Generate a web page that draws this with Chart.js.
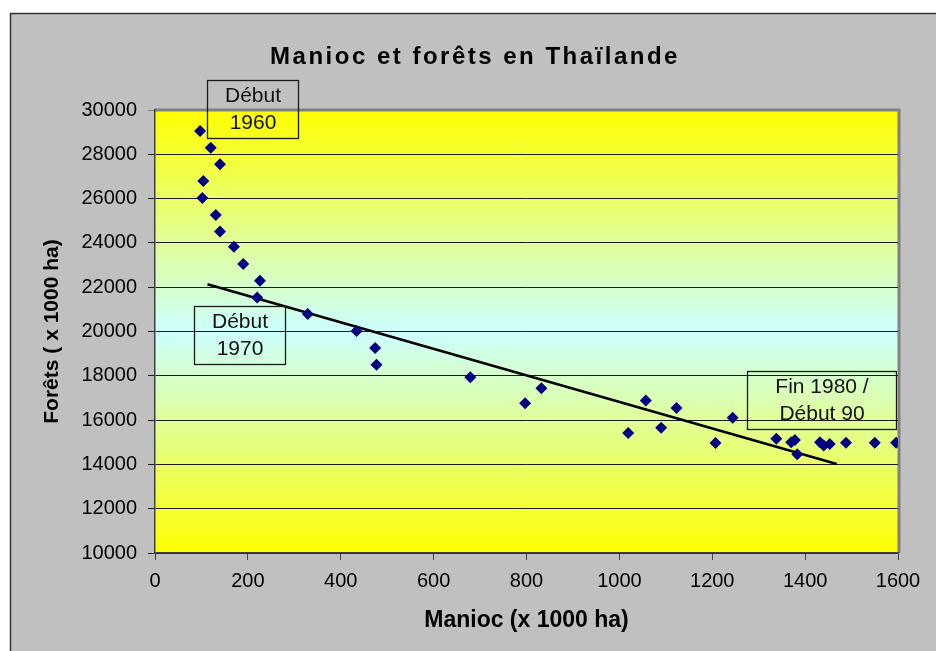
<!DOCTYPE html>
<html>
<head>
<meta charset="utf-8">
<script src="https://cdn.jsdelivr.net/npm/chart.js@4"></script>
<style>
  html, body { margin: 0; padding: 0; background: #fff; }
</style>
</head>
<body>
<canvas id="chart" width="936" height="651"></canvas>
<script>
// Data
const maniocX = [97, 120, 140, 104, 102, 131, 140, 170, 190, 226, 220, 329, 434, 474, 477, 679, 797, 832,
  1019, 1057, 1090, 1123, 1207, 1244, 1338, 1370, 1378, 1383, 1432, 1440, 1453, 1488, 1550, 1596];
const foretsY = [29050, 28300, 27550, 26800, 26030, 25260, 24510, 23830, 23050, 22290, 21530, 20790, 20020, 19250, 18500, 17930, 16760, 17440,
  15420, 16880, 15660, 16550, 14970, 16110, 15160, 15000, 15100, 14460, 15000, 14850, 14920, 14980, 14980, 14980];
const trendX = [113, 1468];
const trendY = [22130, 14020];
const xTicks = [0, 200, 400, 600, 800, 1000, 1200, 1400, 1600];
const yTicks = [10000, 12000, 14000, 16000, 18000, 20000, 22000, 24000, 26000, 28000, 30000];
const chartTitle = "Manioc et forêts en Thaïlande";
const xTitle = "Manioc (x 1000 ha)";
const yTitle = "Forêts ( x 1000 ha)";
const noteLabels = [["Début", "1960"], ["Début", "1970"], ["Fin 1980 /", "Début 90"]];

const FONT = "'Liberation Sans', Arial, sans-serif";

// box anchors (data coords of top-left corner) and sizes in px
const noteBoxes = [
  { x: 112, y: 31355, w: 91, h: 58 },
  { x: 84, y: 21151, w: 91, h: 58 },
  { x: 1275, y: 18217, w: 149, h: 58 }
];

const backdrop = {
  id: "backdrop",
  beforeDraw(chart) {
    const { ctx, chartArea: a } = chart;
    ctx.save();
    ctx.fillStyle = "#ffffff";
    ctx.fillRect(0, 0, chart.width, chart.height);
    ctx.fillStyle = "#c0c0c0";
    ctx.fillRect(10, 13, chart.width - 10, chart.height - 13);
    ctx.strokeStyle = "#333333";
    ctx.lineWidth = 1.5;
    ctx.beginPath();
    ctx.moveTo(10.5, chart.height);
    ctx.lineTo(10.5, 13.5);
    ctx.lineTo(chart.width, 13.5);
    ctx.stroke();
    // plot area gradient
    const g = ctx.createLinearGradient(0, a.top, 0, a.bottom);
    g.addColorStop(0, "#ffff00");
    g.addColorStop(0.5, "#ccffff");
    g.addColorStop(1, "#ffff00");
    ctx.fillStyle = g;
    ctx.fillRect(a.left, a.top, a.right - a.left, a.bottom - a.top);
    ctx.strokeStyle = "#808080";
    ctx.lineWidth = 3;
    ctx.beginPath();
    ctx.moveTo(a.left, a.top);
    ctx.lineTo(a.right + 1, a.top);
    ctx.lineTo(a.right + 1, a.bottom);
    ctx.stroke();
    // title
    ctx.fillStyle = "#000";
    ctx.font = "bold 24px " + FONT;
    ctx.letterSpacing = "2.5px";
    ctx.textAlign = "center";
    ctx.textBaseline = "alphabetic";
    ctx.fillText(chartTitle, 475, 64);
    ctx.restore();
  }
};

const notes = {
  id: "notes",
  afterDatasetsDraw(chart) {
    const { ctx, scales: { x, y } } = chart;
    ctx.save();
    ctx.font = "21px " + FONT;
    ctx.textAlign = "center";
    ctx.textBaseline = "middle";
    noteBoxes.forEach((b, i) => {
      const left = Math.round(x.getPixelForValue(b.x)) + 0.5;
      const top = Math.round(y.getPixelForValue(b.y)) + 0.5;
      ctx.strokeStyle = "#1a1a1a";
      ctx.lineWidth = 1.3;
      ctx.strokeRect(left, top, b.w, b.h);
      ctx.fillStyle = "#111";
      noteLabels[i].forEach((t, k) => {
        ctx.fillText(t, left + b.w / 2, top + 16 + k * 27);
      });
    });
    ctx.restore();
  }
};

new Chart(document.getElementById("chart"), {
  type: "scatter",
  data: {
    datasets: [
      {
        label: "Forêts",
        data: maniocX.map((v, i) => ({ x: v, y: foretsY[i] })),
        pointStyle: "rectRot",
        pointRadius: 6,
        pointHoverRadius: 6,
        backgroundColor: "#000080",
        borderColor: "#000080",
        borderWidth: 0
      },
      {
        label: "Tendance",
        data: trendX.map((v, i) => ({ x: v, y: trendY[i] })),
        showLine: true,
        pointRadius: 0,
        borderColor: "#000000",
        borderWidth: 2.5
      }
    ]
  },
  options: {
    responsive: false,
    animation: false,
    layout: { padding: { left: 10, top: 110, right: 38, bottom: 0 } },
    plugins: {
      legend: { display: false },
      tooltip: { enabled: false }
    },
    scales: {
      x: {
        type: "linear",
        min: 0,
        max: 1600,
        afterBuildTicks: s => { s.ticks = xTicks.map(v => ({ value: v })); },
        afterFit: s => { s.height = 98; },
        grid: { drawOnChartArea: false, tickLength: 7, color: "#404040" },
        border: { color: "#404040", width: 1.5 },
        ticks: { padding: 9, color: "#000", font: { family: FONT, size: 20 }, callback: v => String(v) },
        title: {
          display: true, text: xTitle, color: "#000",
          font: { family: FONT, size: 23, weight: "bold" },
          padding: { top: 0, bottom: 17 }
        }
      },
      y: {
        type: "linear",
        min: 10000,
        max: 30000,
        afterBuildTicks: s => { s.ticks = yTicks.map(v => ({ value: v })); },
        afterFit: s => { s.width = 145; },
        grid: {
          tickLength: 7,
          color: c => (c.tick && c.tick.value === 30000 ? "#808080" : "#1a1a1a")
        },
        border: { color: "#404040", width: 1.5 },
        ticks: { padding: 11, color: "#000", font: { family: FONT, size: 20 }, callback: v => String(v) },
        title: {
          display: true, text: yTitle, color: "#000",
          font: { family: FONT, size: 21, weight: "bold" },
          padding: { top: 30, bottom: 0 }
        }
      }
    }
  },
  plugins: [backdrop, notes]
});
</script>
</body>
</html>
